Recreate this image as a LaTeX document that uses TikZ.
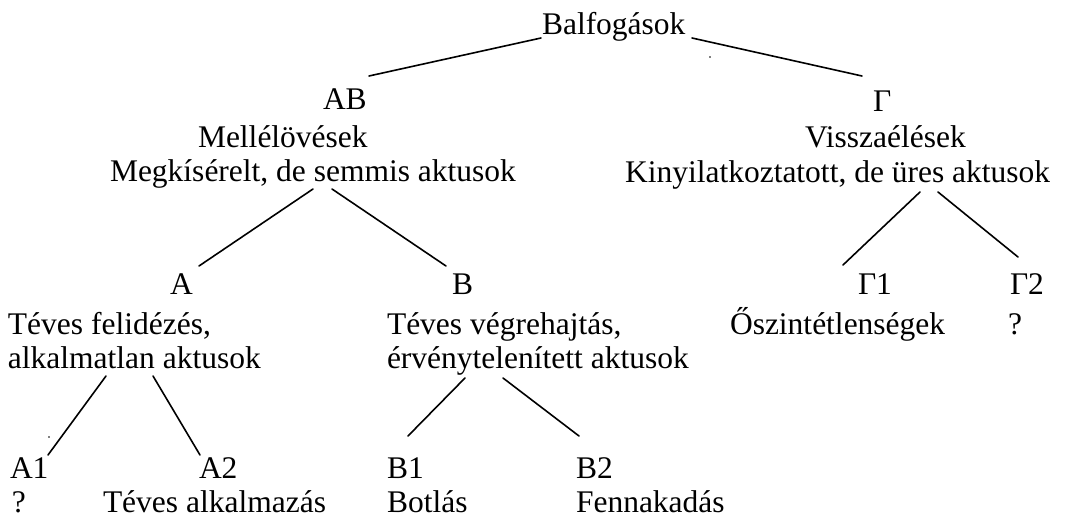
\documentclass[tikz,border=0pt]{standalone}
\usepackage{fontspec}
\setmainfont{Liberation Serif}
\begin{document}
\begin{tikzpicture}[x=1pt,y=-1pt,
  lbl/.style={anchor=base west,inner sep=0pt,outer sep=0pt,font=\fontsize{31.5}{34}\selectfont},
  conn/.style={line width=1.6pt,line cap=round},
  speck/.style={fill=black,draw=none}]
\useasboundingbox (0,0) rectangle (1071,519);
% texts
\node[lbl] (balf) at (542,35) {Balfogások};
\node[lbl] (ab) at (323,110) {AB};
\node[lbl] (mell) at (198,147) {Mellélövések};
\node[lbl] (megk) at (110,181) {Megkísérelt, de semmis aktusok};
\node[lbl] (gam) at (873,111) {Γ};
\node[lbl] (vissz) at (805,147) {Visszaélések};
\node[lbl] (kiny) at (625,182) {Kinyilatkoztatott, de üres aktusok};
\node[lbl] (a) at (170,294) {A};
\node[lbl] (tf) at (8,334) {Téves felidézés,};
\node[lbl] (alk) at (8,368) {alkalmatlan aktusok};
\node[lbl] (b) at (452,294) {B};
\node[lbl] (tv) at (387,334) {Téves végrehajtás,};
\node[lbl] (erv) at (387,368) {érvénytelenített aktusok};
\node[lbl] (g1) at (858,294) {Γ1};
\node[lbl] (osz) at (730,334) {Őszintétlenségek};
\node[lbl] (g2) at (1010,294) {Γ2};
\node[lbl] (g2q) at (1008,334) {?};
\node[lbl] (a1) at (10,478) {A1};
\node[lbl] (a1q) at (12,512) {?};
\node[lbl] (a2) at (199,478) {A2};
\node[lbl] (ta) at (103,512) {Téves alkalmazás};
\node[lbl] (b1) at (387,478) {B1};
\node[lbl] (bot) at (387,512) {Botlás};
\node[lbl] (b2) at (576,478) {B2};
\node[lbl] (fen) at (576,512) {Fennakadás};
% connector end points
\coordinate (balfL) at (541,38);
\coordinate (balfR) at (692,38);
\coordinate (abT) at (369,76);
\coordinate (gamT) at (862,76);
\coordinate (megkL) at (313,189);
\coordinate (megkR) at (332,189);
\coordinate (aT) at (199,266);
\coordinate (bT) at (446,266);
\coordinate (alkL) at (106,376);
\coordinate (alkR) at (153,376);
\coordinate (a1T) at (48,455);
\coordinate (a2T) at (200,455);
\coordinate (ervL) at (465,378);
\coordinate (ervR) at (503,378);
\coordinate (b1T) at (408,436);
\coordinate (b2T) at (579,436);
\coordinate (kinyL) at (920,192);
\coordinate (kinyR) at (938,192);
\coordinate (g1T) at (843,265);
\coordinate (g2T) at (1018,257);
% connectors
\draw[conn] (balfL) -- (abT);
\draw[conn] (balfR) -- (gamT);
\draw[conn] (megkL) -- (aT);
\draw[conn] (megkR) -- (bT);
\draw[conn] (alkL) -- (a1T);
\draw[conn] (alkR) -- (a2T);
\draw[conn] (ervL) -- (b1T);
\draw[conn] (ervR) -- (b2T);
\draw[conn] (kinyL) -- (g1T);
\draw[conn] (kinyR) -- (g2T);
% specks
\coordinate (s1) at (710,57);
\coordinate (s2) at (49,437);
\fill[speck] (s1) circle (0.9);
\fill[speck] (s2) circle (0.9);
\end{tikzpicture}
\end{document}
